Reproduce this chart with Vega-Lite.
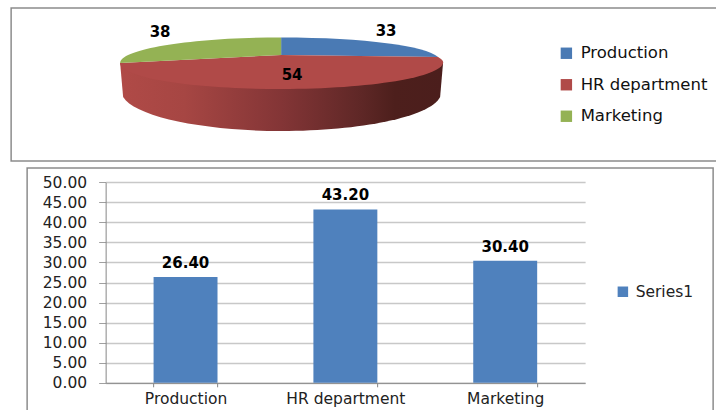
{
  "$schema": "https://vega.github.io/schema/vega-lite/v6.json",
  "padding": {"left": 10, "top": 7, "right": 0, "bottom": 0},
  "background": "white",
  "spacing": 5,
  "center": true,
  "resolve": {"scale": {"color": "independent"}, "legend": {"color": "independent"}},
  "config": {
    "font": "DejaVu Sans",
    "view": {"stroke": "#8c8c8c", "strokeWidth": 1.5, "fill": "white"}
  },
  "datasets": {
    "headcount": [
      {"dept": "Production", "employees": 33},
      {"dept": "HR department", "employees": 54},
      {"dept": "Marketing", "employees": 38}
    ],
    "percent": [
      {"dept": "Production", "share": 26.4, "series": "Series1"},
      {"dept": "HR department", "share": 43.2, "series": "Series1"},
      {"dept": "Marketing", "share": 30.4, "series": "Series1"}
    ]
  },
  "vconcat": [
    {
      "width": 718,
      "height": 153,
      "data": {"name": "headcount"},
      "layer": [
        {
          "description": "Outer wall of the largest slice, with the shading running left to right",
          "transform": [{"filter": "datum.dept === 'HR department'"}],
          "mark": {
            "type": "point",
            "filled": true,
            "size": 4,
            "opacity": 1,
            "shape": "M -250,-21.5 L -247,12.5 C -235,32.5 -165,46.5 -89,46.5 C -10,46.5 60,32.5 70,12.5 L 73,-22.5 Z",
            "fill": {
              "gradient": "linear", "x1": 0, "x2": 1, "y1": 0, "y2": 0,
              "stops": [
                {"offset": 0, "color": "#b04a47"},
                {"offset": 0.2, "color": "#a64643"},
                {"offset": 0.5, "color": "#833536"},
                {"offset": 0.75, "color": "#5e2726"},
                {"offset": 0.85, "color": "#4d1f1c"},
                {"offset": 1, "color": "#4b1e1c"}
              ]
            }
          }
        },
        {
          "description": "Flattened pie slices, one per department",
          "mark": {"type": "point", "filled": true, "size": 4, "opacity": 1},
          "encoding": {
            "shape": {
              "field": "employees",
              "type": "ordinal",
              "legend": null,
              "scale": {
                "domain": [33, 54, 38],
                "range": [
                  "M -89,-29.5 L -89,-47 C -4,-47 55,-38.5 68,-27.5 Z",
                  "M -89,-29.5 L 68,-27.5 Q 73,-24.5 73,-22.5 C 73,-7.5 0,4.5 -89,4.5 C -178,4.5 -250,-6.5 -250,-21.5 Z",
                  "M -89,-29.5 L -250,-21.5 C -250,-35.5 -178,-47 -89,-47 Z"
                ]
              }
            },
            "color": {
              "field": "dept",
              "type": "nominal",
              "sort": null,
              "scale": {
                "domain": ["Production", "HR department", "Marketing"],
                "range": ["#4a7ab4", "#b04a48", "#94b254"]
              },
              "legend": {
                "orient": "none",
                "legendX": 547,
                "legendY": 37,
                "title": null,
                "symbolType": "square",
                "symbolSize": 130,
                "symbolOpacity": 1,
                "labelFontSize": 16.5,
                "labelColor": "#111111",
                "labelOffset": 6,
                "rowPadding": 14.5
              }
            }
          }
        },
        {
          "description": "Slice value labels",
          "mark": {"type": "text", "fontWeight": "bold", "fontSize": 15, "color": "#000000"},
          "encoding": {
            "text": {"field": "employees", "type": "quantitative"},
            "x": {
              "field": "employees",
              "type": "quantitative",
              "axis": null,
              "scale": {"domain": [33, 38, 54], "range": [375, 149, 281], "zero": false, "nice": false}
            },
            "y": {
              "field": "employees",
              "type": "quantitative",
              "axis": null,
              "scale": {"domain": [33, 38, 54], "range": [23, 24, 67], "zero": false, "nice": false}
            }
          }
        }
      ]
    },
    {
      "width": 686,
      "height": 246,
      "data": {"name": "percent"},
      "encoding": {
        "x": {
          "field": "dept",
          "type": "nominal",
          "sort": null,
          "title": null,
          "scale": {"range": [78.5, 558], "paddingInner": 0.6, "paddingOuter": 0.3},
          "axis": {
            "orient": "bottom",
            "offset": -31.2,
            "tickBand": "extent",
            "labelAngle": 0,
            "labelFontSize": 15.5,
            "labelColor": "#222222",
            "labelPadding": 5,
            "tickSize": 4,
            "tickColor": "#868686",
            "domainColor": "#868686",
            "grid": false
          }
        },
        "y": {
          "field": "share",
          "type": "quantitative",
          "title": null,
          "scale": {"domain": [0, 50], "range": [214.8, 14.2], "nice": false},
          "axis": {
            "orient": "left",
            "offset": -78.5,
            "values": [0, 5, 10, 15, 20, 25, 30, 35, 40, 45, 50],
            "format": ".2f",
            "labelFontSize": 15.5,
            "labelColor": "#222222",
            "labelPadding": 12,
            "tickSize": 7,
            "tickColor": "#a0a0a0",
            "domainColor": "#868686",
            "grid": true,
            "gridColor": "#c8c8c8",
            "gridWidth": 1.3
          }
        }
      },
      "layer": [
        {
          "mark": {"type": "bar", "filled": true},
          "encoding": {
            "color": {
              "field": "series",
              "type": "nominal",
              "scale": {"range": ["#4f81bd"]},
              "legend": {
                "orient": "none",
                "legendX": 588,
                "legendY": 116,
                "title": null,
                "symbolType": "square",
                "symbolSize": 110,
                "symbolStrokeWidth": 0,
                "labelFontSize": 15.5,
                "labelColor": "#222222",
                "labelOffset": 5
              }
            }
          }
        },
        {
          "mark": {"type": "text", "baseline": "bottom", "dy": -6, "fontWeight": "bold", "fontSize": 15, "color": "#000000"},
          "encoding": {
            "text": {"field": "share", "type": "quantitative", "format": ".2f"}
          }
        }
      ]
    }
  ]
}
